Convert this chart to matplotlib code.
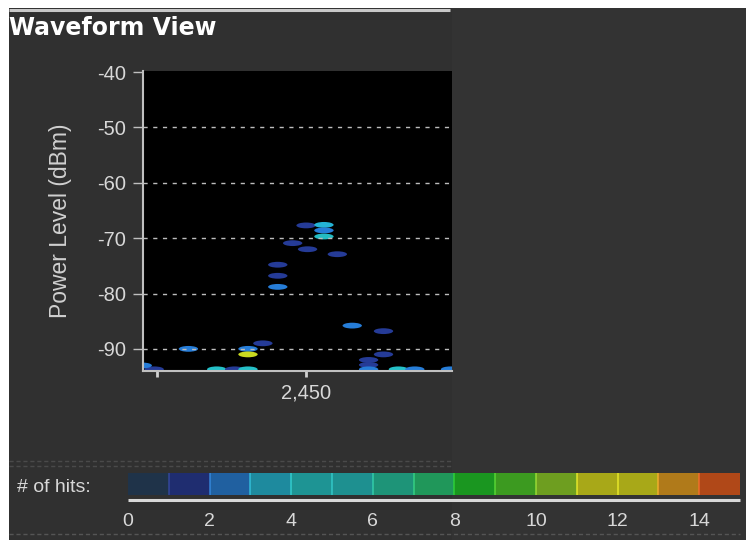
import matplotlib
matplotlib.use("Agg")
import matplotlib.pyplot as plt
from matplotlib.patches import Ellipse, Rectangle
from matplotlib.colors import ListedColormap, BoundaryNorm, to_rgb
import numpy as np

# --- data -----------------------------------------------------------------
# hit clusters: centre frequency (MHz), power (dBm), number of hits
freq_mhz = [2450.0, 2451.2, 2451.2, 2451.2, 2449.1, 2450.1, 2452.1,
            2448.1, 2448.1, 2448.1, 2453.1, 2455.2, 2442.1, 2447.1,
            2446.1, 2446.1, 2455.2, 2454.2, 2454.2,
            2439.8, 2444.0, 2445.2, 2446.1, 2454.2, 2456.2, 2457.3, 2459.7,
            2439.0]
power_dbm = [-67.7, -67.6, -68.6, -69.7, -70.9, -72.0, -72.9,
             -74.8, -76.8, -78.8, -85.8, -86.8, -90.0, -89.0,
             -90.0, -91.0, -91.0, -92.0, -92.9,
             -93.7, -93.7, -93.7, -93.7, -93.7, -93.7, -93.7, -93.7,
             -93.0]
hits = [1, 3, 2, 5, 1, 1, 1,
        1, 1, 2, 2, 1, 2, 1,
        2, 11, 1, 1, 1,
        1, 4, 1, 4, 2, 4, 2, 2,
        2]

y_ticks = [-40, -50, -60, -70, -80, -90]
x_ticks = [2440, 2450]
x_tick_labels = ["", "2,450"]

hit_levels = list(range(16))
hit_tick_values = [0, 2, 4, 6, 8, 10, 12, 14]
hit_colors = ["#1f3349", "#1f2d70", "#2060a0", "#1e8a9e", "#1e9494",
              "#1e9090", "#1e9478", "#20975a", "#1a9620", "#3c9a20",
              "#6e9e20", "#a8a818", "#a8a818", "#b07a1a", "#b04818"]

# --- figure ---------------------------------------------------------------
W, H = 746, 540
fig = plt.figure(figsize=(W / 100, H / 100), dpi=100, facecolor="white")

def frac(x0, y0, x1, y1):
    """pixel box (top-left origin) -> figure fraction rect"""
    return [x0 / W, 1 - y1 / H, (x1 - x0) / W, (y1 - y0) / H]

# background panel drawn in pixel coordinates
bg = fig.add_axes([0, 0, 1, 1], zorder=0)
bg.set_xlim(0, W)
bg.set_ylim(H, 0)
bg.axis("off")
bg.add_patch(Rectangle((9, 8), W - 9, H - 8, color="#333333", lw=0))
bg.add_patch(Rectangle((9, 8), 443, H - 8, color="#303030", lw=0))
bg.plot([9, 450], [9.5, 9.5], color="#c8c8c8", lw=2.2, solid_capstyle="butt")
bg.plot([9, 452], [461, 461], color="#4a4a4a", lw=1, ls=(0, (3, 2)))
bg.plot([9, 452], [466, 466], color="#4a4a4a", lw=1, ls=(0, (3, 2)))
bg.plot([9, 740], [534, 534], color="#555555", lw=1, ls=(0, (3, 2)))
bg.plot([128, 740], [500, 500], color="#d8d8d8", lw=2.2, solid_capstyle="butt")

fig.text(9 / W, 1 - 28 / H, "Waveform View", color="white",
         fontsize=17, fontweight="bold", family="DejaVu Sans",
         va="center", ha="left")

cmap = ListedColormap(hit_colors)
norm = BoundaryNorm(hit_levels, cmap.N)

def blob_color(h):
    r, g, b = to_rgb(cmap(norm(h + 0.5)))
    return (min(1, r * 1.2), min(1, g * 1.3), min(1, b * 1.35))

# --- main plot ------------------------------------------------------------
ax = fig.add_axes(frac(143, 71, 452, 371), zorder=2)
ax.set_facecolor("black")
ax.set_xlim(2439.05, 2459.8)
ax.set_ylim(-94.0, -39.8)

for f, p, h in zip(freq_mhz, power_dbm, hits):
    ax.add_patch(Ellipse((f, p), width=1.3, height=1.05,
                         facecolor=blob_color(h), edgecolor="none"))

for yv in y_ticks[1:]:
    ax.axhline(yv, color="#bdbdbd", lw=1.0, ls=(0, (3, 4)), zorder=3)

ax.set_yticks(y_ticks)
ax.set_yticklabels([str(v) for v in y_ticks])
ax.set_xticks(x_ticks)
ax.set_xticklabels(x_tick_labels)
for s in ["top", "right"]:
    ax.spines[s].set_visible(False)
for s in ["left", "bottom"]:
    ax.spines[s].set_color("#c0c0c0")
    ax.spines[s].set_linewidth(1.5)
ax.tick_params(axis="y", colors="#c0c0c0", length=7, width=1,
               labelcolor="#d8d8d8", labelsize=14.5, pad=5)
ax.tick_params(axis="x", colors="#d0d0d0", length=4, width=2,
               labelcolor="#d8d8d8", labelsize=14.5, pad=5)
for lab in ax.get_yticklabels() + ax.get_xticklabels():
    lab.set_family("Liberation Sans")
ax.set_ylabel("Power Level (dBm)", color="#d0d0d0", fontsize=16.5,
              family="Liberation Sans", labelpad=18)

# --- hit-count colour bar -------------------------------------------------
cax = fig.add_axes(frac(128, 473, 740, 495), zorder=2)
cax.set_xlim(0, 15)
cax.set_ylim(0, 1)
cax.bar(hit_levels[:-1], [1] * 15, width=1, align="edge",
        color=hit_colors, edgecolor="none")
for i, c in enumerate(hit_colors[:-1]):
    light = tuple(min(1, v * 1.35 + 0.05) for v in to_rgb(hit_colors[i + 1]))
    cax.axvline(i + 1, color=light, lw=1.2, alpha=0.8)
cax.axis("off")

lax = fig.add_axes(frac(128, 511, 740, 531), zorder=2)
lax.set_xlim(0, 15)
lax.axis("off")
for v in hit_tick_values:
    lax.text(v, 0.5, str(v), color="#d8d8d8", fontsize=14,
             family="Liberation Sans", ha="center", va="center",
             transform=lax.get_xaxis_transform())

fig.text(17 / W, 1 - 487 / H, "# of hits:", color="#d8d8d8", fontsize=14,
         family="Liberation Sans", ha="left", va="center")

fig.savefig("out.png", dpi=100, facecolor=fig.get_facecolor())
